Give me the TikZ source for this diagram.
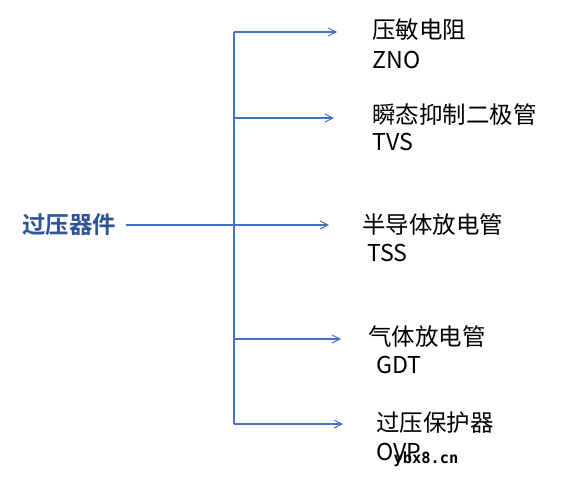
\documentclass[tikz,border=0pt]{standalone}
\usepackage{fontspec}
\usetikzlibrary{arrows.meta,positioning}
\newfontfamily\cjk{Noto Sans CJK SC}[BoldFont={Noto Sans CJK SC Bold}]
\newfontfamily\wmfont{DejaVu Sans Mono}
\definecolor{myblue}{RGB}{68,114,196}
\definecolor{mydarkblue}{RGB}{47,85,151}

\begin{document}
\begin{tikzpicture}[x=0.75pt,y=-0.75pt,
  link/.style={draw=myblue,line width=0.8pt},
  tip/.style={link,-{Straight Barb[length=6pt,width=6pt,line width=0.7pt]}},
  rootnode/.style={font=\cjk\bfseries\fontsize{17.6}{20}\selectfont,text=mydarkblue,inner sep=0pt},
  namenode/.style={anchor=west,inner sep=0pt,font=\cjk\fontsize{17.6}{20}\selectfont},
  abbrnode/.style={anchor=west,inner sep=0pt,font=\cjk\fontsize{17.4}{19}\selectfont}]

  \useasboundingbox (0,0) rectangle (573,488);

  \node[rootnode] (root) at (69,225) {过压器件};

  % branch points on the spine
  \coordinate (b1) at (234,32);
  \coordinate (b2) at (234,118);
  \coordinate (b3) at (234,225);
  \coordinate (b4) at (234,339);
  \coordinate (b5) at (234,424);

  % arrow ends
  \coordinate (e1) at (337,32);
  \coordinate (e2) at (334,118);
  \coordinate (e3) at (329,225);
  \coordinate (e4) at (341,339);
  \coordinate (e5) at (343,424);

  \node[namenode] (zno) at (372,30) {压敏电阻};
  \node[abbrnode] (znoa) at (372,60) {ZNO};
  \node[namenode] (tvs) at (372,115) {瞬态抑制二极管};
  \node[abbrnode] (tvsa) at (372,142) {TVS};
  \node[namenode] (tss) at (362,225) {半导体放电管};
  \node[abbrnode] (tssa) at (367,253) {TSS};
  \node[namenode] (gdt) at (368,337) {气体放电管};
  \node[abbrnode] (gdta) at (376,365) {GDT};
  \node[namenode] (ovp) at (376,423) {过压保护器};
  \node[abbrnode] (ovpa) at (376,452) {OVP};

  \draw[link] ([xshift=7pt]root.east) -- (b3);
  \draw[link] (b1) -- (b5);
  \draw[tip] (b1) -- (e1);
  \draw[tip] (b2) -- (e2);
  \draw[tip] (b3) -- (e3);
  \draw[tip] (b4) -- (e4);
  \draw[tip] (b5) -- (e5);

  \node[inner sep=0pt,font=\wmfont\bfseries\fontsize{11.5}{12}\selectfont] (mark) at (426,459) {ybx8.cn};

\end{tikzpicture}
\end{document}
